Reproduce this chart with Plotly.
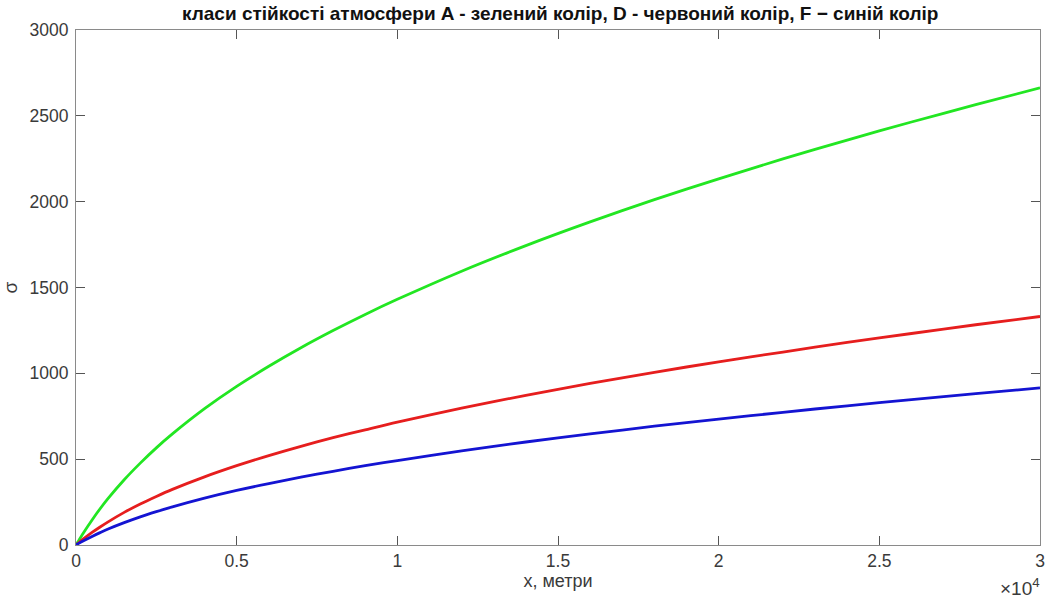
import plotly.graph_objects as go

# distance downwind, metres
x_m = [0, 100, 250, 500, 750, 1000, 1500, 2000, 2500, 3000, 4000, 5000,
       6000, 7000, 8000, 9000, 10000, 12000, 14000, 16000, 18000, 20000,
       22000, 24000, 26000, 28000, 30000]

# dispersion sigma for stability classes A, D, F
sigma_a = [0, 31, 76, 146, 211, 271, 380, 477, 566, 647, 794, 924,
           1041, 1149, 1249, 1343, 1431, 1595, 1744, 1882, 2012, 2133,
           2249, 2359, 2464, 2565, 2663]
sigma_d = [0, 16, 38, 73, 105, 135, 190, 239, 283, 324, 397, 462,
           521, 575, 625, 671, 716, 797, 872, 941, 1006, 1067,
           1124, 1180, 1232, 1283, 1331]
sigma_f = [0, 11, 26, 50, 72, 93, 130, 164, 194, 222, 273, 318,
           358, 395, 429, 462, 492, 548, 600, 647, 692, 733,
           773, 811, 847, 882, 915]

x_ticks = [0, 5000, 10000, 15000, 20000, 25000, 30000]
x_tick_text = ["0", "0.5", "1", "1.5", "2", "2.5", "3"]
y_ticks = [0, 500, 1000, 1500, 2000, 2500, 3000]

title_text = "класи стійкості атмосфери A - зелений колір, D - червоний колір, F \u2212 синій колір"

FONT = "Liberation Sans, Arial, sans-serif"
TEXT_COL = "#3a3a3a"

fig = go.Figure()
for ys, col in [(sigma_a, "#22e622"), (sigma_d, "#e61e1e"), (sigma_f, "#1414d2")]:
    fig.add_trace(go.Scatter(
        x=x_m, y=ys, mode="lines",
        line=dict(color=col, width=2.8, shape="spline", smoothing=0.8),
        showlegend=False, hoverinfo="skip",
    ))

axis_common = dict(
    showgrid=False, zeroline=False,
    showline=True, linecolor="#8a8a8a", linewidth=1.2,
    mirror="ticks", ticks="inside", ticklen=9, tickcolor="#555555", tickwidth=1,
    tickfont=dict(family=FONT, size=17.5, color=TEXT_COL),
)

fig.update_layout(
    width=1051, height=598,
    margin=dict(l=75, r=6, t=30, b=53),
    paper_bgcolor="white", plot_bgcolor="white",
    title=dict(
        text="<b>" + title_text + "</b>",
        x=0.533, xanchor="center", y=0.977, yanchor="middle",
        font=dict(family=FONT, size=19, color="#111111"),
    ),
    xaxis=dict(
        range=[0, 30000], tickvals=x_ticks, ticktext=x_tick_text,
        title=dict(text="x, метри", standoff=4,
                   font=dict(family=FONT, size=18, color=TEXT_COL)),
        **axis_common,
    ),
    yaxis=dict(
        range=[0, 3000], tickvals=y_ticks, ticklabelstandoff=3,
        title=dict(text="σ", standoff=10,
                   font=dict(family=FONT, size=19, color=TEXT_COL)),
        **axis_common,
    ),
    annotations=[dict(
        text="\u00d710<sup>4</sup>", xref="paper", yref="paper",
        x=1.002, y=-0.082, xanchor="right", yanchor="middle", showarrow=False,
        font=dict(family=FONT, size=19, color=TEXT_COL),
    )],
)

fig.write_html("out.html")
